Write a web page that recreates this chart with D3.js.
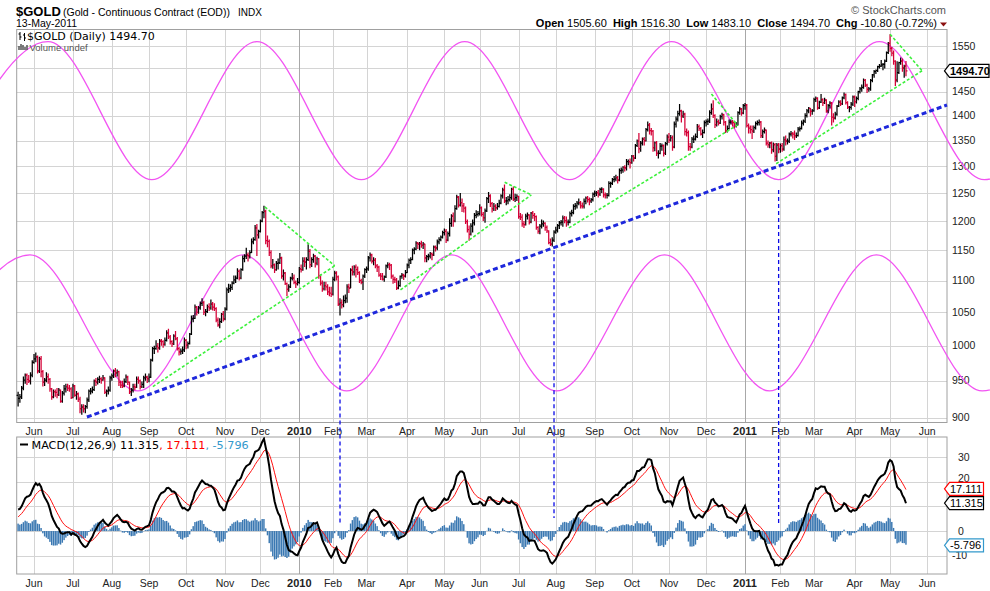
<!DOCTYPE html>
<html>
<head>
<meta charset="utf-8">
<title>$GOLD daily with MACD</title>
<script src="https://cdn.jsdelivr.net/npm/d3@7"></script>
<style>
  html, body { margin: 0; padding: 0; background: #fff; }
  svg { display: block; font-family: "Liberation Sans", Arial, sans-serif; }
</style>
</head>
<body>
<svg id="chart" width="990" height="591"></svg>
<script>
/* $GOLD continuous contract, daily OHLC May 2009 - May 2011 (log scale),
   cycle waves + trendlines drawn on top, MACD(12,26,9) panel underneath. */
"use strict";

var START = "2009-05-18", CAL_END = "2011-06-18";
var HOLIDAYS = ["2009-05-25","2009-07-03","2009-09-07","2009-11-26","2009-12-25","2010-01-01","2010-01-18",
  "2010-02-15","2010-04-02","2010-05-31","2010-07-05","2010-09-06","2010-11-25","2010-12-24","2011-01-17",
  "2011-02-21","2011-04-22","2011-05-30"];

// closes before the first plotted bar, only used to warm up the MACD averages
var WARMUP = [904,896,874,881,886,882,872,890,889,881,869,886,890,891,903,912,910,894,898,884,885,900,903,907,915,914,914,923,925,930,930];

// one row per trading week
var OPEN = [
  930,926,928,940,951, 958,952,950,958, 976,981,984,964,981, 963,948,951,956,952, 939,928,935,934,931,
  937,922,933,939,942, 940,939,927,943, 930,932,925,912,914, 912,915,924,936,936, 938,950,948,952,953,
  951,954,934,936,937, 954,957,964,961,963, 948,944,943,949,955, 948,935,937,942,941, 952,950,942,945,954,955,
  953,955,979,996, 996,999,997,1007, 1006,1002,1008,1019,1013, 1006,1003,1014,1010,996, 991,992,994,1008,1001,
  1003,1017,1040,1041,1058, 1050,1057,1064,1065,1050, 1051,1059,1057,1063,1058, 1056,1038,1031,1036,1047,
  1040,1055,1085,1087,1089, 1096,1101,1104,1115,1104, 1118,1136,1140,1142,1141, 1146,1164,1168,1188,
  1176,1182,1200,1215,1217, 1166,1165,1146,1124,1126, 1118,1128,1129,1137,1107, 1112,1095,1086,1090, 1104,1104,1097,1095,
  1097,1119,1118,1132,1130, 1134,1148,1126,1134,1140, 1128,1136,1108,1096, 1087,1092,1090,1082,1080,
  1078,1102,1112,1106,1063, 1065,1062,1068,1072,1090, 1088,1117,1114,1122, 1118,1113,1100,1097,1107,
  1118,1119,1137,1142,1132, 1133,1124,1122,1109,1107, 1102,1106,1124,1126,1125, 1107,1102,1101,1088,1092,
  1107,1109,1107,1113, 1125,1133,1134,1150,1152, 1162,1160,1161,1158,1160, 1137,1139,1140,1144,1142,
  1155,1154,1164,1168,1172, 1180,1182,1167,1178,1196, 1209,1200,1222,1243,1228, 1233,1227,1223,1199,1185,
  1177,1191,1197,1210,1212, 1213,1224,1212,1206, 1218,1240,1245,1231,1222, 1226,1224,1226,1232,1245,
  1256,1236,1236,1238,1242, 1257,1239,1242,1244,1208, 1207,1195,1194,1209, 1211,1198,1214,1210,1208,
  1189,1182,1191,1195,1196, 1189,1183,1163,1160,1167, 1181,1184,1192,1197,1198, 1205,1201,1198,1198,1213,
  1215,1226,1227,1232,1233, 1227,1226,1235,1241,1238, 1236,1238,1248,1250,1251, 1248,1257,1257,1247,
  1246,1246,1268,1268,1275, 1276,1279,1274,1292,1293, 1298,1297,1309,1309,1307, 1319,1316,1340,1349,1334,
  1345,1353,1350,1372,1381, 1370,1369,1336,1346,1325, 1325,1339,1340,1325,1344, 1357,1351,1356,1337,1383,
  1393,1404,1410,1399,1403, 1368,1366,1338,1337,1353, 1353,1358,1378, 1374,1363,1366, 1386,1388,1389,
  1406,1414,1400,1382,1388, 1385,1398,1402,1387,1370, 1374,1387,1388,1386, 1380,1381,1406,1414,1405,
  1421,1422,1380,1375,1372, 1369,1376,1384,1386,1387, 1360,1368,1371,1345, 1342,1345,1332,1342,1319,1341,
  1333,1340,1333,1352, 1349,1349,1363,1364,1363, 1360,1360,1373,1374,1385, 1389,1400,1410,1415,1409,
  1410,1433,1436,1416, 1428,1433,1427,1432,1410, 1421,1426,1397,1395,1403, 1420,1428,1425,1437,1444,
  1427,1417,1417,1424,1439, 1429,1436,1450,1456,1459, 1474,1464,1455,1456,1474, 1486,1493,1496,1504,
  1505,1508,1509,1516,1535, 1556,1545,1534,1516,1475, 1491,1513,1516,1501,1505.6];
var HIGH = [
  935,932,943,956,960, 960,958,962,979, 988,990,986,984,985, 965,954,962,960,954, 940,938,938,940,940,
  938,936,944,946,946, 944,941,946,944, 936,934,928,918,918, 917,927,938,940,942, 952,954,955,957,955,
  958,955,938,942,957, 960,966,968,966,964, 950,950,953,959,957, 949,940,946,946,956, 956,952,949,957,960,957,
  960,981,998,1000, 1008,1004,1010,1010, 1008,1012,1023,1025,1016, 1008,1017,1022,1013,998, 996,999,1012,1010,1006,
  1019,1045,1046,1062,1060, 1060,1067,1072,1068,1055, 1062,1064,1070,1066,1064, 1058,1042,1041,1049,1052,
  1058,1089,1095,1094,1099, 1108,1108,1120,1118,1120, 1141,1143,1154,1146,1150, 1170,1172,1193,1195,
  1185,1203,1218,1227,1220, 1175,1168,1150,1135,1128, 1132,1136,1145,1139,1118, 1114,1097,1094,1106, 1112,1110,1100,1104,
  1122,1126,1138,1138,1138, 1160,1152,1138,1144,1142, 1139,1137,1110,1100, 1098,1098,1094,1090,1090,
  1106,1116,1115,1108,1072, 1070,1076,1078,1094,1095, 1120,1124,1125,1126, 1123,1115,1103,1110,1120,
  1123,1140,1146,1144,1138, 1137,1127,1124,1112,1112, 1108,1126,1130,1129,1127, 1110,1106,1104,1100,1108,
  1112,1111,1117,1128, 1136,1138,1153,1155,1165, 1164,1164,1166,1164,1161, 1142,1144,1147,1146,1158,
  1158,1168,1172,1175,1183, 1187,1186,1182,1205,1212, 1215,1228,1247,1245,1250, 1240,1232,1226,1203,1192,
  1196,1203,1214,1219,1218, 1230,1226,1216,1222, 1243,1252,1248,1234,1232, 1230,1232,1238,1248,1260,
  1266,1243,1245,1248,1260, 1262,1249,1248,1245,1214, 1212,1200,1213,1215, 1212,1216,1218,1214,1210,
  1191,1195,1203,1201,1198, 1192,1184,1170,1172,1184, 1190,1195,1200,1202,1210, 1209,1208,1203,1217,1220,
  1230,1232,1236,1240,1236, 1233,1240,1244,1245,1242, 1241,1251,1255,1254,1256, 1260,1261,1259,1251,
  1250,1272,1271,1278,1282, 1284,1282,1296,1298,1300, 1302,1314,1313,1315,1322, 1322,1343,1352,1365,1349,
  1356,1357,1375,1388,1385, 1375,1371,1348,1349,1331, 1345,1344,1342,1347,1362, 1365,1361,1360,1388,1398,
  1410,1424,1412,1410,1406, 1374,1370,1345,1357,1360, 1364,1383,1382, 1377,1372,1390, 1392,1394,1411,
  1425,1432,1403,1394,1392, 1402,1406,1404,1389,1380, 1392,1392,1391,1389, 1387,1409,1418,1416,1424,
  1426,1424,1384,1380,1380, 1380,1388,1390,1392,1389, 1372,1376,1372,1350, 1347,1348,1346,1345,1345,1345,
  1344,1345,1358,1360, 1354,1366,1369,1367,1370, 1366,1377,1378,1390,1392, 1405,1414,1418,1416,1414,
  1437,1440,1438,1431, 1445,1436,1437,1434,1424, 1430,1428,1405,1408,1422, 1432,1432,1440,1448,1446,
  1430,1420,1428,1442,1442, 1440,1452,1460,1465,1478, 1477,1467,1460,1477,1488, 1497,1498,1506,1510,
  1519,1512,1520,1538,1559, 1577,1548,1540,1518,1516, 1515,1524,1522,1508,1516.3];
var LOW = [
  915,920,925,937,946, 944,947,945,955, 974,976,960,961,955, 942,943,948,946,935, 924,926,928,926,929,
  920,920,930,934,936, 935,925,926,928, 924,921,906,904,907, 906,912,921,931,933, 936,943,945,947,946,
  950,932,928,931,935, 950,954,955,956,943, 940,940,941,947,944, 932,929,934,937,940, 946,938,940,940,950,947,
  948,954,977,988, 994,990,994,1000, 997,1000,1006,1010,1002, 998,1001,1008,993,986, 987,988,991,995,996,
  1002,1016,1035,1040,1045, 1048,1054,1060,1046,1044, 1049,1052,1054,1053,1052, 1035,1028,1026,1034,1036,
  1038,1053,1080,1082,1085, 1094,1096,1102,1100,1102, 1116,1130,1135,1131,1136, 1145,1160,1166,1140,
  1170,1180,1198,1205,1160, 1155,1140,1120,1119,1112, 1116,1118,1127,1103,1100, 1093,1075,1082,1088, 1100,1094,1088,1092,
  1095,1113,1116,1122,1118, 1132,1120,1122,1129,1121, 1125,1103,1092,1082, 1084,1084,1077,1075,1074,
  1076,1099,1100,1060,1045, 1056,1058,1064,1065,1080, 1088,1108,1108,1105, 1109,1096,1094,1085,1104,
  1112,1116,1131,1128,1125, 1120,1114,1106,1101,1100, 1098,1104,1120,1117,1103, 1095,1096,1085,1086,1090,
  1103,1101,1105,1112, 1120,1127,1133,1143,1150, 1152,1150,1154,1152,1130, 1130,1133,1136,1133,1140,
  1148,1150,1160,1165,1170, 1175,1162,1165,1173,1190, 1190,1198,1220,1224,1226, 1216,1215,1195,1180,1166,
  1175,1180,1192,1205,1208, 1210,1208,1200,1197, 1216,1232,1225,1215,1218, 1218,1220,1224,1230,1240,
  1232,1228,1230,1235,1238, 1236,1234,1236,1204,1202, 1190,1188,1192,1203, 1194,1196,1204,1200,1185,
  1178,1177,1187,1190,1183, 1179,1160,1157,1156,1164, 1178,1180,1186,1192,1190, 1196,1190,1192,1196,1208,
  1212,1220,1222,1228,1222, 1222,1222,1230,1233,1228, 1232,1235,1243,1245,1242, 1245,1250,1242,1240,
  1240,1244,1260,1265,1270, 1272,1268,1272,1286,1288, 1290,1292,1302,1296,1305, 1309,1314,1337,1325,1328,
  1340,1340,1348,1368,1362, 1360,1328,1329,1320,1315, 1323,1330,1319,1322,1340, 1345,1348,1330,1335,1376,
  1388,1400,1386,1395,1360, 1358,1330,1330,1335,1345, 1350,1355,1369, 1360,1355,1364, 1378,1381,1385,
  1402,1395,1375,1378,1380, 1383,1392,1380,1365,1366, 1372,1382,1378,1374, 1376,1380,1402,1400,1403,
  1412,1376,1364,1364,1353, 1365,1372,1380,1380,1355, 1355,1364,1340,1336, 1335,1324,1327,1309,1310,1325,
  1326,1328,1330,1340, 1342,1345,1358,1354,1351, 1355,1358,1368,1372,1380, 1385,1396,1405,1398,1402,
  1408,1428,1412,1414, 1426,1420,1424,1406,1405, 1415,1380,1386,1392,1400, 1418,1420,1422,1434,1423,
  1414,1407,1412,1420,1418, 1425,1432,1446,1450,1456, 1460,1447,1450,1452,1470, 1480,1488,1492,1500,
  1503,1496,1500,1514,1532, 1537,1527,1508,1462,1470, 1488,1508,1493,1480,1483.1];
var CLOSE = [
  926,928,940,951,958, 952,950,958,976, 981,984,964,981,963, 948,951,956,952,939, 928,935,934,931,937,
  922,933,939,942,940, 939,927,943,930, 932,925,912,914,912, 915,924,936,936,938, 950,948,952,953,951,
  954,934,936,937,954, 957,964,961,963,948, 944,943,949,955,948, 935,937,942,941,952, 950,942,945,954,955,953,
  955,979,996,996, 999,997,1007,1006, 1002,1008,1019,1013,1006, 1003,1014,1010,996,991, 992,994,1008,1001,1003,
  1017,1040,1041,1058,1050, 1057,1064,1065,1050,1051, 1059,1057,1063,1058,1056, 1038,1031,1036,1047,1040,
  1055,1085,1087,1089,1096, 1101,1104,1115,1104,1118, 1136,1140,1142,1141,1146, 1164,1168,1188,1176,
  1182,1200,1215,1217,1166, 1165,1146,1124,1126,1118, 1128,1129,1137,1107,1112, 1095,1086,1090,1104, 1104,1097,1095,1097,
  1119,1118,1132,1130,1134, 1148,1126,1134,1140,1128, 1136,1108,1096,1087, 1092,1090,1082,1080,1078,
  1102,1112,1106,1063,1065, 1062,1068,1072,1090,1088, 1117,1114,1122,1118, 1113,1100,1097,1107,1118,
  1119,1137,1142,1132,1133, 1124,1122,1109,1107,1102, 1106,1124,1126,1125,1107, 1102,1101,1088,1092,1107,
  1109,1107,1113,1125, 1133,1134,1150,1152,1162, 1160,1161,1158,1160,1137, 1139,1140,1144,1142,1155,
  1154,1164,1168,1172,1180, 1182,1167,1178,1196,1209, 1200,1222,1243,1228,1233, 1227,1223,1199,1185,1177,
  1191,1197,1210,1212,1213, 1224,1212,1206,1218, 1240,1245,1231,1222,1226, 1224,1226,1232,1245,1256,
  1236,1236,1238,1242,1257, 1239,1242,1244,1208,1207, 1195,1194,1209,1211, 1198,1214,1210,1208,1189,
  1182,1191,1195,1196,1189, 1183,1163,1160,1167,1181, 1184,1192,1197,1198,1205, 1201,1198,1198,1213,1215,
  1226,1227,1232,1233,1227, 1226,1235,1241,1238,1236, 1238,1248,1250,1251,1248, 1257,1257,1247,1246,
  1246,1268,1268,1275,1276, 1279,1274,1292,1293,1298, 1297,1309,1309,1307,1319, 1316,1340,1349,1334,1345,
  1353,1350,1372,1381,1370, 1369,1336,1346,1325,1325, 1339,1340,1325,1344,1357, 1351,1356,1337,1383,1393,
  1404,1410,1399,1403,1368, 1366,1338,1337,1353,1353, 1358,1378,1374, 1363,1366,1386, 1388,1389,1406,
  1414,1400,1382,1388,1385, 1398,1402,1387,1370,1374, 1387,1388,1386,1380, 1381,1406,1414,1405,1421,
  1422,1380,1375,1372,1369, 1376,1384,1386,1387,1360, 1368,1371,1345,1342, 1345,1332,1342,1319,1341,1333,
  1340,1333,1352,1349, 1349,1363,1364,1363,1360, 1360,1373,1374,1385,1389, 1400,1410,1415,1409,1410,
  1433,1436,1416,1428, 1433,1427,1432,1410,1421, 1426,1397,1395,1403,1420, 1428,1425,1437,1444,1427,
  1417,1417,1424,1439,1429, 1436,1450,1456,1459,1474, 1464,1455,1456,1474,1486, 1493,1496,1504,1505,
  1508,1509,1516,1535,1556, 1545,1534,1516,1475,1491, 1513,1516,1501,1505.5,1494.7];

var PRICE_TICKS = [900,950,1000,1050,1100,1150,1200,1250,1300,1350,1400,1450,1500,1550];
var PRICE_SHOWN = [900,950,1000,1050,1100,1150,1200,1250,1300,1350,1400,1450,1550];   // 1500 is under the last-price tag
var MACD_TICKS = [-10,0,10,20,30];
var MACD_SHOWN = [-10,0,20,30];                     // 10 sits under the value tags
var LAST = { open: "1505.60", high: "1516.30", low: "1483.10", close: "1494.70", chg: "-10.80 (-0.72%)" };
var MACD_LAST = [11.315, 17.111, -5.796];

// hand-drawn overlays, [trading-day offset from START, price]
var CYCLE_UPPER = [[-41.9,1275],[16.9,1560],[75.6,1275],[135.0,1560],[194.1,1275],[252.5,1560],[311.8,1275],
  [369.4,1560],[429.9,1275],[486.9,1560],[546.3,1275],[605.6,1560]];
var CYCLE_LOWER = [[-54.3,936],[6.7,1142],[67.7,936],[127.1,1142],[185.8,936],[245.1,1142],[304.5,936],
  [365.5,1142],[424.8,936],[485.3,1142],[545.1,936],[605.6,1142]];
var TREND_BLUE = [[38.9,901],[525.2,1422]];
var TREND_GREEN = [
  [[76.2,942],[179.0,1124]], [[139.5,1225],[179.0,1124]],
  [[216.2,1085],[290.2,1247]], [[275.1,1270],[290.2,1247]],
  [[311.4,1188],[406.7,1381]], [[392.0,1445],[406.7,1381]],
  [[428.6,1305],[511.1,1495]], [[493.0,1577],[511.1,1495]]];
// cycle-low markers: date, price where the line starts, MACD value where it stops
var MARKERS = [["2010-02-05",1024,3.2],["2010-07-30",1150,5.3],["2011-01-31",1256,2.4]];

var L = 16.7, R = 947, PT = 29.5, PB = 422.5, MT = 437, MB = 574;
var svg = d3.select("#chart");
var fmt = d3.utcFormat("%Y-%m-%d"), parse = d3.utcParse("%Y-%m-%d");
var hol = new Set(HOLIDAYS);
var days = d3.utcDay.range(parse(START), parse(CAL_END)).filter(function (d) {
  var wd = d.getUTCDay(); return wd !== 0 && wd !== 6 && !hol.has(fmt(d));
});
var dayIdx = new Map(days.map(function (d, j) { return [fmt(d), j]; }));

var x = d3.scaleLinear().domain([-0.8, 525.2]).range([L, R]);
var y = d3.scaleLog().domain([893.8, 1588]).range([PB, PT]);
var ym = d3.scaleLinear().domain([-17.4, 38.1]).range([MB, MT]);

// MACD(12,26,9)
function ema(a, n) {
  var k = 2 / (n + 1), e = a[0];
  return a.map(function (v, j) { if (j) e = v * k + e * (1 - k); return e; });
}
var allC = WARMUP.concat(CLOSE);
var e12 = ema(allC, 12), e26 = ema(allC, 26);
var macdAll = allC.map(function (v, j) { return e12[j] - e26[j]; });
var sigAll = ema(macdAll, 9);
var MACD = macdAll.slice(WARMUP.length), SIGNAL = sigAll.slice(WARMUP.length);
var HIST = MACD.map(function (v, j) { return v - SIGNAL[j]; });

var monthStarts = [];
days.forEach(function (d, j) {
  if (j && d.getUTCMonth() !== days[j - 1].getUTCMonth() && x(j) < R) monthStarts.push(j);
});

// ---- grids & frames
[[PT, PB, y, PRICE_TICKS], [MT, MB, ym, MACD_TICKS]].forEach(function (p) {
  var gg = svg.append("g");
  gg.selectAll("line.h").data(p[3]).enter().append("line")
    .attr("x1", L).attr("x2", R).attr("y1", function (v) { return Math.round(p[2](v)) + 0.5; })
    .attr("y2", function (v) { return Math.round(p[2](v)) + 0.5; })
    .attr("stroke", "#d4d4d4");
  gg.selectAll("line.v").data(monthStarts).enter().append("line")
    .attr("x1", function (j) { return Math.round(x(j)) + 0.5; }).attr("x2", function (j) { return Math.round(x(j)) + 0.5; })
    .attr("y1", p[0]).attr("y2", p[1])
    .attr("stroke", function (j) { return days[j].getUTCMonth() === 0 ? "#a8a8a8" : "#d4d4d4"; });
  gg.append("rect").attr("x", L).attr("y", p[0]).attr("width", R - L).attr("height", p[1] - p[0])
    .attr("fill", "none").attr("stroke", "#a0a0a0");
});

// ---- axis labels
svg.append("g").selectAll("text").data(PRICE_SHOWN).enter().append("text")
  .attr("x", 952).attr("y", function (v) { return y(v) + 3.6; })
  .attr("font-size", 10.5).attr("fill", "#222").text(function (v) { return v; });
svg.append("g").selectAll("text").data(MACD_SHOWN).enter().append("text")
  .attr("x", function (v) { return v < 0 ? 952 : 958; })
  .attr("y", function (v) { return ym(v) + (v === 20 ? 0.6 : 3.6); })
  .attr("font-size", 10.5).attr("fill", "#222").text(function (v) { return v; });
[435, 587].forEach(function (ty) {
  svg.append("g").selectAll("text").data(monthStarts).enter().append("text")
    .attr("x", function (j) { return x(j); }).attr("y", ty).attr("text-anchor", "middle")
    .attr("font-size", function (j) { return days[j].getUTCMonth() === 0 ? 11 : 10.5; })
    .attr("font-weight", function (j) { return days[j].getUTCMonth() === 0 ? "bold" : "normal"; })
    .attr("fill", "#222")
    .text(function (j) { return days[j].getUTCMonth() === 0 ? d3.utcFormat("%Y")(days[j]) : d3.utcFormat("%b")(days[j]); });
});

// ---- cycle waves
var wave = d3.line().x(function (d) { return x(d[0]); }).y(function (d) { return y(d[1]); }).curve(d3.curveMonotoneX);
[CYCLE_UPPER, CYCLE_LOWER].forEach(function (c) {
  svg.append("path").attr("d", wave(c)).attr("fill", "none").attr("stroke", "#f254f2").attr("stroke-width", 1.3);
});

// ---- OHLC bars (red when the close is below the prior close)
var up = "", dn = "";
CLOSE.forEach(function (c, j) {
  var xx = +x(j).toFixed(2);
  var s = "M" + xx + "," + y(HIGH[j]).toFixed(1) + "V" + y(LOW[j]).toFixed(1) +
    "M" + (xx - 1.5) + "," + y(OPEN[j]).toFixed(1) + "H" + xx +
    "M" + xx + "," + y(c).toFixed(1) + "H" + (xx + 1.5);
  if (j && c < CLOSE[j - 1]) dn += s; else up += s;
});
svg.append("path").attr("d", up).attr("fill", "none").attr("stroke", "#000").attr("stroke-width", 1.25);
svg.append("path").attr("d", dn).attr("fill", "none").attr("stroke", "#d40036").attr("stroke-width", 1.25);

// ---- trendlines
var seg = d3.line().x(function (d) { return x(d[0]); }).y(function (d) { return y(d[1]); });
TREND_GREEN.forEach(function (t) {
  svg.append("path").attr("d", seg(t)).attr("stroke", "#3cf03c").attr("stroke-width", 1.6)
    .attr("stroke-dasharray", "3,2").attr("fill", "none");
});
svg.append("path").attr("d", seg(TREND_BLUE)).attr("stroke", "#1e28dc").attr("stroke-width", 3)
  .attr("stroke-dasharray", "5,3").attr("fill", "none");

// ---- MACD panel
svg.append("clipPath").attr("id", "mclip").append("rect").attr("x", L).attr("y", MT).attr("width", R - L).attr("height", MB - MT);
var mg = svg.append("g").attr("clip-path", "url(#mclip)");
mg.selectAll("rect").data(HIST).enter().append("rect")
  .attr("x", function (v, j) { return x(j) - 0.75; }).attr("width", 1.45)
  .attr("y", function (v) { return Math.min(ym(v), ym(0)); })
  .attr("height", function (v) { return Math.abs(ym(v) - ym(0)); })
  .attr("fill", "#3a78b2");
var mline = d3.line().x(function (v, j) { return x(j); }).y(function (v) { return ym(v); });
mg.append("path").attr("d", mline(SIGNAL)).attr("fill", "none").attr("stroke", "#ff1010").attr("stroke-width", 1);
mg.append("path").attr("d", mline(MACD)).attr("fill", "none").attr("stroke", "#000").attr("stroke-width", 2);

// ---- cycle-low markers
MARKERS.forEach(function (m) {
  var xx = x(dayIdx.get(m[0]));
  svg.append("line").attr("x1", xx).attr("x2", xx).attr("y1", y(m[1])).attr("y2", ym(m[2]))
    .attr("stroke", "#0a0ae6").attr("stroke-width", 1.3).attr("stroke-dasharray", "4,3");
});

// ---- value tags on the right axis
function tag(yc, label, stroke, x1, bold) {
  var x0 = 944.5, h = 6.5;
  svg.append("path").attr("d", "M" + x0 + "," + yc + "L" + (x0 + 5) + "," + (yc - h) + "H" + x1 + "V" + (yc + h) + "H" + (x0 + 5) + "Z")
    .attr("fill", "#fff").attr("stroke", stroke).attr("stroke-width", 1.2);
  svg.append("text").attr("x", x0 + 5.5).attr("y", yc + 3.8).attr("font-size", 11)
    .attr("font-weight", bold ? "bold" : "normal").attr("fill", "#000").text(label);
}
tag(y(+LAST.close), LAST.close, "#000", 989, true);
tag(ym(MACD_LAST[1]), MACD_LAST[1].toFixed(3), "#ff0000", 983.5, false);
tag(ym(MACD_LAST[0]), MACD_LAST[0].toFixed(3), "#000", 983.5, false);
tag(ym(MACD_LAST[2]), MACD_LAST[2].toFixed(3), "#3399cc", 983.5, false);

// ---- header
svg.append("text").attr("x", 16).attr("y", 15.5).attr("font-size", 13).attr("font-weight", "bold").text("$GOLD");
svg.append("text").attr("x", 63).attr("y", 15.5).attr("font-size", 10.5).text("(Gold - Continuous Contract (EOD))");
svg.append("text").attr("x", 238).attr("y", 15.5).attr("font-size", 10).text("INDX");
svg.append("text").attr("x", 16).attr("y", 27).attr("font-size", 10.5).text("13-May-2011");
svg.append("text").attr("x", 946).attr("y", 14).attr("text-anchor", "end").attr("font-size", 11).attr("fill", "#555")
  .text("\u00a9 StockCharts.com");
var hdr = svg.append("text").attr("x", 937).attr("y", 27).attr("text-anchor", "end").attr("font-size", 11).attr("fill", "#000")
  .attr("xml:space", "preserve").style("white-space", "pre");
[["Open", LAST.open], ["High", LAST.high], ["Low", LAST.low], ["Close", LAST.close], ["Chg", LAST.chg]].forEach(function (p, k) {
  hdr.append("tspan").attr("font-weight", "bold").text((k ? "  " : "") + p[0] + " ");
  hdr.append("tspan").text(p[1]);
});
svg.append("path").attr("d", "M940,22.5H947L943.5,26.5Z").attr("fill", "#8b1010");

// ---- panel legends
var lg = svg.append("g").attr("font-family", "'DejaVu Sans', Verdana, sans-serif");
lg.append("path").attr("d", "M20,32V40M18.5,34H20M20,37H21.5M24.5,33V41M23,35H24.5M24.5,38H26")
  .attr("stroke", "#000").attr("stroke-width", 1).attr("fill", "none");
lg.append("text").attr("x", 27).attr("y", 39.5).attr("font-size", 11).text("$GOLD (Daily) 1494.70");
lg.append("path").attr("d", "M19,50V46M21,50V44M23,50V45M25,50V47M27,50V45")
  .attr("stroke", "#555").attr("stroke-width", 1.5).attr("fill", "none");
svg.append("text").attr("x", 29.5).attr("y", 51).attr("font-size", 9.5).attr("fill", "#555").text("Volume undef");
lg.append("line").attr("x1", 20).attr("x2", 28).attr("y1", 444.5).attr("y2", 444.5).attr("stroke", "#000").attr("stroke-width", 2);
var ml = lg.append("text").attr("x", 31.5).attr("y", 448.5).attr("font-size", 11.2);
ml.append("tspan").attr("fill", "#000").text("MACD(12,26,9) " + MACD_LAST[0].toFixed(3));
ml.append("tspan").attr("fill", "#ff0000").text(", " + MACD_LAST[1].toFixed(3));
ml.append("tspan").attr("fill", "#3399cc").text(", " + MACD_LAST[2].toFixed(3));

if (CLOSE.length !== OPEN.length || CLOSE.length !== HIGH.length || CLOSE.length !== LOW.length)
  console.error("length mismatch", OPEN.length, HIGH.length, LOW.length, CLOSE.length);
</script>
</body>
</html>
